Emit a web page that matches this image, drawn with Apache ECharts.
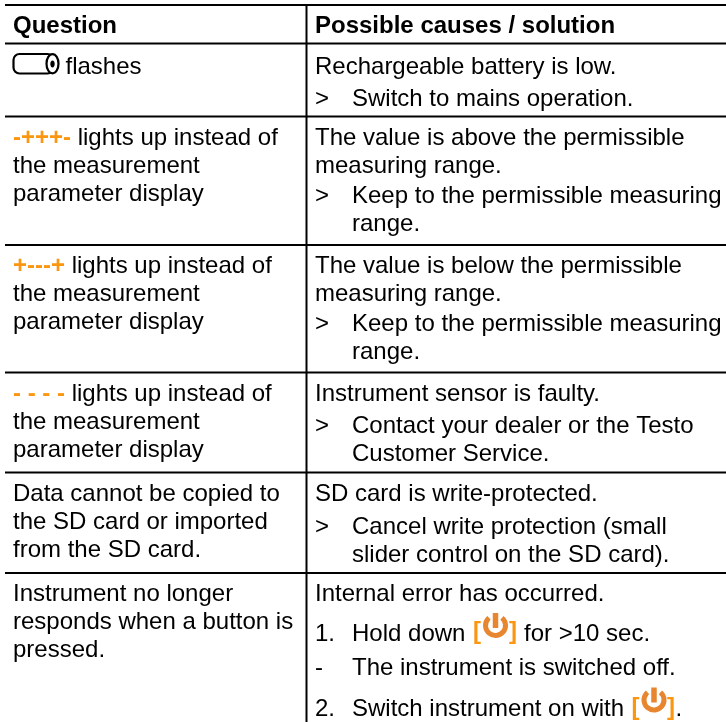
<!DOCTYPE html>
<html><head><meta charset="utf-8">
<style>html,body{margin:0;padding:0;background:#fff}#c{width:726px;height:722px}</style>
<script src="https://cdn.jsdelivr.net/npm/echarts@6/dist/echarts.min.js"></script>
</head><body><div id="c"></div>
<script>
const headers = ['Question', 'Possible causes / solution'];
const questions = [
  ['flashes'],
  ['{o|-+++-} lights up instead of', 'the measurement', 'parameter display'],
  ['{o|+---+} lights up instead of', 'the measurement', 'parameter display'],
  ['{o|- - - -} lights up instead of', 'the measurement', 'parameter display'],
  ['Data cannot be copied to', 'the SD card or imported', 'from the SD card.'],
  ['Instrument no longer', 'responds when a button is', 'pressed.']
];
const answers = [
  [['', 'Rechargeable battery is low.'], ['>', 'Switch to mains operation.']],
  [['', 'The value is above the permissible'], ['', 'measuring range.'], ['>', 'Keep to the permissible measuring'], ['', 'range.']],
  [['', 'The value is below the permissible'], ['', 'measuring range.'], ['>', 'Keep to the permissible measuring'], ['', 'range.']],
  [['', 'Instrument sensor is faulty.'], ['>', 'Contact your dealer or the Testo'], ['', 'Customer Service.']],
  [['', 'SD card is write-protected.'], ['>', 'Cancel write protection (small'], ['', 'slider control on the SD card).']],
  [['', 'Internal error has occurred.'], ['1.', 'Hold down'], ['-', 'The instrument is switched off.'], ['2.', 'Switch instrument on with']]
];

const FONT = '"Liberation Sans", Arial, sans-serif';
const SIZE = 24, ORANGE = '#FA9610', ICON = '#E8852F';
const ruleY = [5, 43.5, 116.5, 245, 372.5, 472.5, 573];
const qBase = [[73], [144, 172, 200], [272, 300, 328], [400, 428, 456], [500, 528, 556], [600, 628, 656]];
const aBase = [[73, 105], [144, 172, 202, 230], [272, 300, 330, 358], [400, 432, 460], [500, 533, 561], [600, 640, 674, 715]];
const X = { left: 13, right: 315, indent: 352, rule: 306.5 };
const MID = 6;

const g = [];
function line(x1, y1, x2, y2, lw, color) {
  g.push({ type: 'line', shape: { x1, y1, x2, y2 }, style: { stroke: color || '#000', lineWidth: lw } });
}
function text(x, base, str, extra) {
  g.push({ type: 'text', x, y: base - MID, style: Object.assign({
    text: str, fill: '#000', font: SIZE + 'px ' + FONT, verticalAlign: 'middle',
    rich: { o: { fill: ORANGE, fontWeight: 'bold', fontSize: SIZE, fontFamily: FONT } }
  }, extra || {}) });
}
ruleY.forEach(y => line(5, y, 726, y, 2));
line(X.rule, 5, X.rule, 722, 2);

text(X.left, 32, headers[0], { font: 'bold ' + SIZE + 'px ' + FONT });
text(X.right, 32, headers[1], { font: 'bold ' + SIZE + 'px ' + FONT });

questions.forEach((rows, r) => rows.forEach((s, i) => {
  text(X.left + (r === 0 ? 52.5 : 0), qBase[r][i], s);
}));
answers.forEach((rows, r) => rows.forEach((row, i) => {
  const indented = row[0] !== '' || (rows[i - 1] && rows[i - 1][0] !== '' && r < 5);
  if (row[0]) text(X.right, aBase[r][i], row[0]);
  text(indented ? X.indent : X.right, aBase[r][i], row[1]);
}));

// battery glyph
g.push({ type: 'rect', shape: { x: 13.5, y: 54, width: 40, height: 19.5, r: 6 }, style: { stroke: '#000', lineWidth: 2.2, fill: null } });
g.push({ type: 'ellipse', shape: { cx: 52.5, cy: 63.7, rx: 6, ry: 9.6 }, style: { stroke: '#000', lineWidth: 2.2, fill: '#fff' } });
g.push({ type: 'ellipse', shape: { cx: 52.5, cy: 64, rx: 2.2, ry: 3.4 }, style: { fill: '#000' } });

// power buttons
function power(cx, cy, bx1, bx2, base) {
  const b = { font: 'bold 24px ' + FONT, fill: ORANGE };
  text(bx1, base, '[', b);
  text(bx2, base, ']', b);
  g.push({ type: 'arc', shape: { cx, cy, r: 10, startAngle: -Math.PI / 2 + 0.7, endAngle: -Math.PI / 2 - 0.7, clockwise: true },
    style: { stroke: ICON, lineWidth: 5, fill: null } });
  line(cx, cy - 12.5, cx, cy + 2.5, 5.5, ICON);
}
power(495.5, 625.5, 473, 509, 638);
text(524, 640, 'for >10 sec.');
power(654, 700, 631.5, 667, 714);
text(675.5, 715, '.');

const chart = echarts.init(document.getElementById('c'), null, { renderer: 'canvas' });
chart.setOption({ backgroundColor: '#fff', animation: false, graphic: { elements: g } });
</script>
</body></html>
